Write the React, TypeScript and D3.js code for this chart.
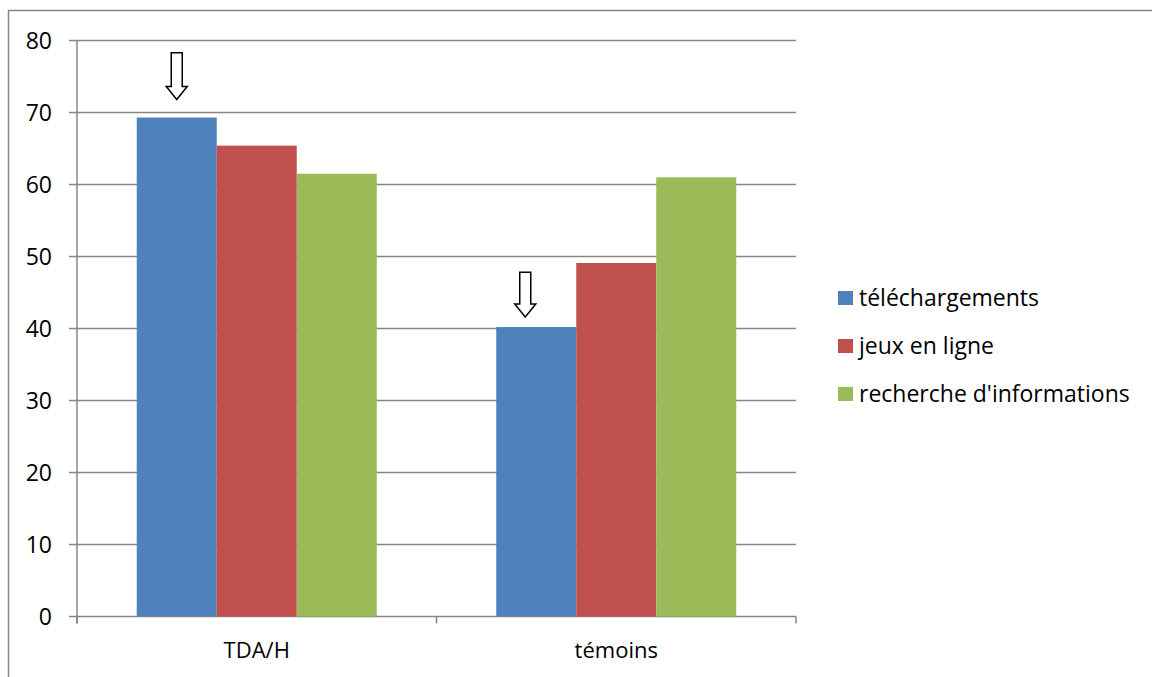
import React from "react";
import * as d3 from "d3";

const categories = ["TDA/H", "témoins"];
const seriesNames = ["téléchargements", "jeux en ligne", "recherche d'informations"];
const seriesColors = ["#4F81BD", "#C0504D", "#9BBB59"];
const valuesTDAH = [69.3, 65.4, 61.5];
const valuesTemoins = [40.2, 49.1, 61.0];
const yTicks = [0, 10, 20, 30, 40, 50, 60, 70, 80];
// arrow annotations: category, value at arrow tip, arrow top value, horizontal shift
const arrowCats = ["TDA/H", "témoins"];
const arrowTipValues = [71.8, 41.6];
const arrowTopValues = [78.3, 47.8];
const arrowShift = [0, -11];

const W = 1152;
const H = 677;
const FONT = "'Open Sans', Lato, sans-serif";
const GRID = "#868686";
const FS = 23;

export default function App() {
  const values = [valuesTDAH, valuesTemoins];
  const x0 = d3.scaleBand<string>().domain(categories).range([77, 796]).padding(0);
  const groupW = x0.bandwidth() * (240 / 359.5);
  const x1 = d3.scaleBand<string>().domain(seriesNames).range([0, groupW]).padding(0);
  const offset = (x0.bandwidth() - groupW) / 2;
  const y = d3.scaleLinear().domain([0, 80]).range([616.5, 40.5]);

  const boundaries = [...categories.map((c) => x0(c)!), x0.range()[1]];

  return (
    <svg
      width={W}
      height={H}
      style={{ position: "absolute", left: 0, top: 0, background: "#fff" }}
      fontFamily={FONT}
    >
      <rect x={8.5} y={10.5} width={W + 20} height={H + 20} fill="#fff" stroke={GRID} strokeWidth={1.5} />
      {yTicks.map((t) => (
        <line key={"g" + t} x1={69} x2={796} y1={y(t)} y2={y(t)} stroke={GRID} strokeWidth={1.5} />
      ))}
      <line x1={77} x2={77} y1={y(80)} y2={y(0) + 7} stroke={GRID} strokeWidth={1.5} />
      {boundaries.map((b, i) => (
        <line key={"xt" + i} x1={b} x2={b} y1={y(0)} y2={y(0) + 7} stroke={GRID} strokeWidth={1.5} />
      ))}
      {yTicks.map((t) => (
        <text key={"yl" + t} x={52} y={y(t)} dy="0.36em" textAnchor="end" fontSize={FS} fill="#000">
          {t}
        </text>
      ))}
      {categories.map((c, ci) =>
        seriesNames.map((s, si) => (
          <rect
            key={c + s}
            x={x0(c)! + offset + x1(s)!}
            y={y(values[ci][si])}
            width={x1.bandwidth()}
            height={y(0) - y(values[ci][si])}
            fill={seriesColors[si]}
          />
        ))
      )}
      {categories.map((c) => (
        <text key={"xl" + c} x={x0(c)! + x0.bandwidth() / 2} y={658} textAnchor="middle" fontSize={22} fill="#000">
          {c}
        </text>
      ))}
      {arrowCats.map((c, i) => {
        const cx = x0(c)! + offset + x1(seriesNames[0])! + x1.bandwidth() / 2 + arrowShift[i];
        const tip = y(arrowTipValues[i]);
        const top = y(arrowTopValues[i]);
        const headH = 13;
        const sw = 5.5;
        const hw = 10.5;
        const hy = tip - headH;
        const pts = [
          [cx - sw, top],
          [cx + sw, top],
          [cx + sw, hy],
          [cx + hw, hy],
          [cx, tip],
          [cx - hw, hy],
          [cx - sw, hy],
        ];
        return (
          <path
            key={"ar" + i}
            d={"M" + pts.map((p) => p.join(",")).join("L") + "Z"}
            fill="#fff"
            stroke="#000"
            strokeWidth={1.5}
          />
        );
      })}
      {seriesNames.map((s, i) => (
        <g key={"lg" + s} transform={`translate(838, ${298 + i * 48})`}>
          <rect x={0} y={-7} width={15} height={14} fill={seriesColors[i]} />
          <text x={21} y={0} dy="0.36em" fontSize={FS} fill="#000">
            {s}
          </text>
        </g>
      ))}
    </svg>
  );
}
